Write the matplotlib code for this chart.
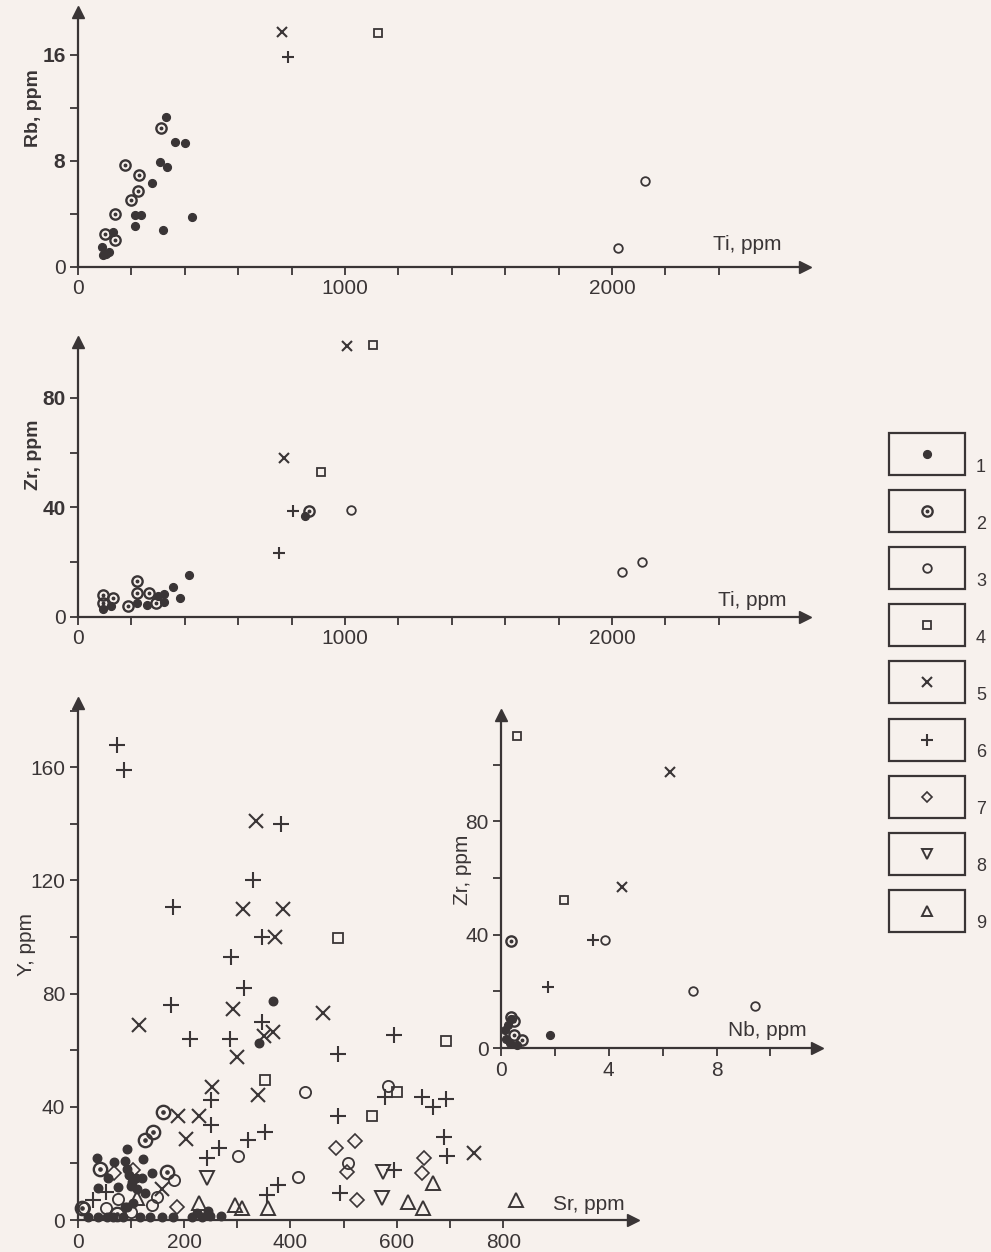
import numpy as np
import matplotlib
matplotlib.use("Agg")
import matplotlib.pyplot as plt

W, H = 991, 1252
ink = "#3a3536"
bg = "#f7f1ed"

plt.rcParams["font.family"] = ["Liberation Sans", "DejaVu Sans"]

# --- Rb vs Ti (top) ---
p1_g1_ti = [330, 363, 400, 307, 334, 276, 213, 235, 213, 320, 426, 132, 89, 95, 117, 105]
p1_g1_rb = [11.3, 9.4, 9.3, 7.9, 7.5, 6.3, 3.9, 3.9, 3.1, 2.8, 3.8, 2.6, 1.5, 0.9, 1.1, 1.0]
p1_g2_ti = [310, 177, 228, 224, 197, 140, 100, 139]
p1_g2_rb = [10.5, 7.7, 6.9, 5.7, 5.05, 4.0, 2.5, 2.0]
p1_g3_ti = [2022, 2124]
p1_g3_rb = [1.4, 6.5]
p1_g4_ti = [1124]
p1_g4_rb = [17.6]
p1_g5_ti = [763]
p1_g5_rb = [17.7]
p1_g6_ti = [788]
p1_g6_rb = [15.8]

# --- Zr vs Ti (middle) ---
p2_g1_ti = [850, 417, 357, 382, 323, 300, 92, 122, 220, 260, 322]
p2_g1_zr = [36.9, 15.3, 10.8, 6.8, 8.3, 7.5, 2.8, 4.0, 5.0, 4.5, 5.5]
p2_g2_ti = [866, 220, 220, 266, 92, 132, 189, 291, 92]
p2_g2_zr = [38.8, 13.3, 8.6, 8.6, 8.0, 6.8, 4.0, 5.2, 5.0]
p2_g3_ti = [1022, 2037, 2112]
p2_g3_zr = [39.1, 16.4, 20.1]
p2_g4_ti = [1106, 909]
p2_g4_zr = [99.3, 53]
p2_g5_ti = [1009, 772]
p2_g5_zr = [98.9, 57.9]
p2_g6_ti = [807, 753]
p2_g6_zr = [38.8, 23.2]

# --- Y vs Sr (bottom) ---
p3_g1_sr = [368, 341, 92, 88, 123, 35.6, 68, 92, 139, 57.5, 97, 103, 110, 120, 126.5, 38.7,
            101, 111, 76, 89, 104, 92,
            20, 38.7, 54.5, 66.6, 85, 117, 136, 158, 180, 214, 233, 248, 270, 245, 225]
p3_g1_y = [77.5, 62.6, 25, 21, 21.6, 21.8, 20.6, 18, 16.5, 14.7, 16, 13.5, 15, 14.7, 9.4, 11.2,
           12, 10.9, 11.6, 4.7, 6, 4.5,
           1.2, 1.2, 1.2, 1.2, 1.2, 1.2, 1.2, 1.2, 1.2, 1.2, 1.2, 1.4, 1.4, 3.2, 2.5]
p3_g2_sr = [161, 142, 126.5, 42, 168, 8, 73]
p3_g2_y = [38, 31.2, 28.3, 18, 17, 4.1, 2.2]
p3_g3_sr = [427, 584, 302, 415, 508, 181, 150, 140, 75, 54, 12.5, 100]
p3_g3_y = [45.3, 47.3, 22.6, 15.3, 20.3, 14.2, 8.2, 5.2, 7.3, 4.4, 4.1, 2.8]
p3_g4_sr = [490, 692, 352, 601, 552.6]
p3_g4_y = [99.5, 63.3, 49.5, 45.3, 36.9]
p3_g5_sr = [336, 311, 386, 371, 116, 292.5, 350, 368, 462, 299, 252, 339.5, 189, 228.6, 203, 158, 745]
p3_g5_y = [141, 110, 110, 100, 69, 74.6, 65, 66.5, 73, 57.5, 47, 44, 36.7, 36.7, 28.6, 11, 23.6]
p3_g6_sr = [74, 87, 382, 330, 178.6, 346, 288, 313, 175, 347, 212, 286, 490, 595, 250, 250, 490,
            353, 321, 265.6, 243.6, 377, 355, 493, 578, 647, 668, 692, 688.5, 693.6, 595, 29, 54]
p3_g6_y = [168, 159, 140, 120, 110.5, 100, 93, 82, 76, 70, 64, 64, 58.5, 65.4, 42.4, 33.6, 36.7,
           31, 28.3, 25.3, 22, 12.4, 8.8, 9.4, 43.6, 43.6, 40, 42.6, 29.4, 22.6, 17.7, 7, 10]
p3_g7_sr = [485.5, 521, 506.8, 651, 646.6, 525.6, 187, 104.5, 69]
p3_g7_y = [25.3, 28, 16.9, 21.8, 16.5, 7, 4.7, 17.7, 16.5]
p3_g8_sr = [244, 574.5, 573]
p3_g8_y = [15, 17, 7.7]
p3_g9_sr = [228.6, 296, 308, 358, 112, 668, 621, 648.5, 824]
p3_g9_y = [5.9, 5.3, 4.1, 4.1, 7.7, 13, 6.5, 4.1, 7]

# --- Zr vs Nb (inset) ---
p4_g1_nb = [1.82, 0.27, 0.15, 0.33, 0.58, 0.2, 0.38]
p4_g1_zr = [4.7, 8.0, 6.4, 1.6, 1.2, 3.3, 10.2]
p4_g2_nb = [0.36, 0.5, 0.5, 0.77, 0.36]
p4_g2_zr = [37.6, 9.4, 4.7, 2.9, 11]
p4_g3_nb = [3.86, 7.11, 9.43]
p4_g3_zr = [38, 20.2, 14.7]
p4_g4_nb = [0.58, 2.35]
p4_g4_zr = [110, 52.1]
p4_g5_nb = [6.27, 4.48]
p4_g5_zr = [97.3, 56.8]
p4_g6_nb = [3.4, 1.76]
p4_g6_zr = [38.2, 21.5]

legend_labels = ["1", "2", "3", "4", "5", "6", "7", "8", "9"]


def marks(ax, kind, x, y, sc=1.0):
    kw = dict(ls="none", clip_on=False, zorder=3)
    if kind == 1:
        ax.plot(x, y, "o", ms=5.6 * sc, color=ink, **kw)
    elif kind == 2:
        ax.plot(x, y, "o", ms=7.4 * sc, mfc="none", mec=ink, mew=1.7, **kw)
        ax.plot(x, y, "o", ms=1.8 * sc, color=ink, **kw)
    elif kind == 3:
        ax.plot(x, y, "o", ms=6.2 * sc, mfc="none", mec=ink, mew=1.3, **kw)
    elif kind == 4:
        ax.plot(x, y, "s", ms=6.0 * sc, mfc="none", mec=ink, mew=1.3, **kw)
    elif kind == 5:
        ax.plot(x, y, "x", ms=6.5 * sc, color=ink, mew=1.5, **kw)
    elif kind == 6:
        ax.plot(x, y, "+", ms=8.5 * sc, color=ink, mew=1.5, **kw)
    elif kind == 7:
        ax.plot(x, y, "D", ms=5.5 * sc, mfc="none", mec=ink, mew=1.2, **kw)
    elif kind == 8:
        ax.plot(x, y, "v", ms=7.5 * sc, mfc="none", mec=ink, mew=1.4, **kw)
    elif kind == 9:
        ax.plot(x, y, "^", ms=7.5 * sc, mfc="none", mec=ink, mew=1.4, **kw)


def frame(x0, x1, ytop, ybot, xmax, ymax, xticks, xlabels, yticks, ylabels, ybold=False):
    ax = fig.add_axes([x0 / W, 1 - ybot / H, (x1 - x0) / W, (ybot - ytop) / H])
    ax.patch.set_alpha(0)
    ax.set_xlim(0, xmax)
    ax.set_ylim(0, ymax)
    for s in ["top", "right"]:
        ax.spines[s].set_visible(False)
    for s in ["left", "bottom"]:
        ax.spines[s].set_color(ink)
        ax.spines[s].set_linewidth(1.6)
    ax.set_xticks(xticks)
    ax.set_xticklabels([f"{v:g}" if v in xlabels else "" for v in xticks])
    ax.set_yticks(yticks)
    ax.set_yticklabels([f"{v:g}" if v in ylabels else "" for v in yticks])
    ax.tick_params(colors=ink, labelsize=15, length=6, width=1.3, pad=3)
    if ybold:
        for t in ax.get_yticklabels():
            if t.get_text() not in ("", "0"):
                t.set_fontweight("bold")
    ax.plot(1, 0, ">", ms=8, color=ink, transform=ax.transAxes, clip_on=False)
    ax.plot(0, 1, "^", ms=8, color=ink, transform=ax.transAxes, clip_on=False)
    return ax


def txt(x, y, s, **kw):
    fig.text(x / W, 1 - y / H, s, color=ink, **kw)


fig = plt.figure(figsize=(W / 100, H / 100), dpi=100, facecolor=bg)

ti_ticks = list(range(0, 2401, 200))

# top panel
ax1 = frame(78, 805, 12, 267, 2723, 19.2, ti_ticks, [0, 1000, 2000],
            [0, 4, 8, 12, 16], [0, 8, 16], ybold=True)
marks(ax1, 1, p1_g1_ti, p1_g1_rb)
marks(ax1, 2, p1_g2_ti, p1_g2_rb)
marks(ax1, 3, p1_g3_ti, p1_g3_rb)
marks(ax1, 4, p1_g4_ti, p1_g4_rb)
marks(ax1, 5, p1_g5_ti, p1_g5_rb)
marks(ax1, 6, p1_g6_ti, p1_g6_rb)
txt(34, 108, "Rb, ppm", rotation=90, ha="center", va="center", fontsize=14, fontweight="bold")
txt(713, 244, "Ti, ppm", ha="left", va="center", fontsize=15)

# middle panel
ax2 = frame(78, 805, 342, 617, 2723, 100.4, ti_ticks, [0, 1000, 2000],
            [0, 20, 40, 60, 80], [0, 40, 80], ybold=True)
marks(ax2, 1, p2_g1_ti, p2_g1_zr)
marks(ax2, 2, p2_g2_ti, p2_g2_zr)
marks(ax2, 3, p2_g3_ti, p2_g3_zr)
marks(ax2, 4, p2_g4_ti, p2_g4_zr)
marks(ax2, 5, p2_g5_ti, p2_g5_zr)
marks(ax2, 6, p2_g6_ti, p2_g6_zr)
txt(34, 455, "Zr, ppm", rotation=90, ha="center", va="center", fontsize=14, fontweight="bold")
txt(718, 600, "Ti, ppm", ha="left", va="center", fontsize=15)

# bottom panel
ax3 = frame(77.7, 633, 703, 1220, 1044, 182.7, list(range(0, 801, 100)), [0, 200, 400, 600, 800],
            list(range(0, 181, 20)), [0, 40, 80, 120, 160])
marks(ax3, 1, p3_g1_sr, p3_g1_y, 1.1)
marks(ax3, 2, p3_g2_sr, p3_g2_y, 1.3)
marks(ax3, 3, p3_g3_sr, p3_g3_y, 1.3)
marks(ax3, 4, p3_g4_sr, p3_g4_y, 1.3)
marks(ax3, 5, p3_g5_sr, p3_g5_y, 1.45)
marks(ax3, 6, p3_g6_sr, p3_g6_y, 1.35)
marks(ax3, 7, p3_g7_sr, p3_g7_y, 1.35)
marks(ax3, 8, p3_g8_sr, p3_g8_y, 1.3)
marks(ax3, 9, p3_g9_sr, p3_g9_y, 1.3)
txt(26, 945, "Y, ppm", rotation=90, ha="center", va="center", fontsize=15)
txt(553, 1205, "Sr, ppm", ha="left", va="center", fontsize=15)

# inset panel
ax4 = frame(501, 817, 715, 1048, 11.73, 117.5, [0, 2, 4, 6, 8, 10], [0, 4, 8],
            [0, 20, 40, 60, 80, 100], [0, 40, 80])
marks(ax4, 1, p4_g1_nb, p4_g1_zr)
marks(ax4, 2, p4_g2_nb, p4_g2_zr)
marks(ax4, 3, p4_g3_nb, p4_g3_zr)
marks(ax4, 4, p4_g4_nb, p4_g4_zr)
marks(ax4, 5, p4_g5_nb, p4_g5_zr)
marks(ax4, 6, p4_g6_nb, p4_g6_zr)
txt(462, 870, "Zr, ppm", rotation=90, ha="center", va="center", fontsize=15)
txt(728, 1030, "Nb, ppm", ha="left", va="center", fontsize=15)

# legend boxes
lg = fig.add_axes([0, 0, 1, 1])
lg.set_xlim(0, W)
lg.set_ylim(H, 0)
lg.axis("off")
lg.patch.set_alpha(0)
for i, lab in enumerate(legend_labels):
    top = 433 + i * 57.1
    lg.add_patch(plt.Rectangle((889, top), 76, 42, fill=False, ec=ink, lw=1.6))
    marks(lg, i + 1, [927], [top + 21], 1.0)
    lg.text(976, top + 34, lab, color=ink, fontsize=13, ha="left", va="center")

fig.savefig("out.png", dpi=100, facecolor=bg)
